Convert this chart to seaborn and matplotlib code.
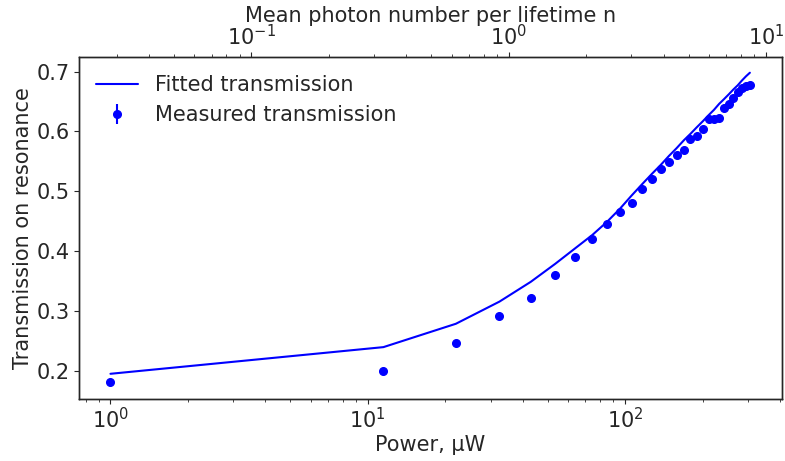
import matplotlib
matplotlib.use("Agg")
import matplotlib.pyplot as plt
import numpy as np
import pandas as pd
import seaborn as sns

# Optical power in microwatts
power_uw = [1.0, 11.5, 22.0, 32.5, 43.0, 53.5, 64.0, 74.5, 85.0, 95.5,
            106.0, 116.5, 127.0, 137.5, 148.0, 158.5, 169.0, 179.5, 190.0, 200.5,
            211.0, 221.5, 232.0, 242.5, 253.0, 263.5, 274.0, 284.5, 295.0, 305.5]

# Measured on-resonance transmission
measured = [0.182, 0.200, 0.247, 0.292, 0.322, 0.361, 0.390, 0.420, 0.446, 0.466,
            0.481, 0.504, 0.521, 0.538, 0.549, 0.560, 0.569, 0.588, 0.592, 0.604,
            0.620, 0.621, 0.623, 0.639, 0.646, 0.655, 0.666, 0.673, 0.675, 0.678]
measured_err = 0.003

# Model fit evaluated at the same powers
fitted = [0.1955, 0.240, 0.279, 0.316, 0.349, 0.379, 0.405, 0.427, 0.449, 0.471,
          0.493, 0.512, 0.529, 0.544, 0.559, 0.572, 0.585, 0.596, 0.607, 0.617,
          0.627, 0.636, 0.646, 0.654, 0.662, 0.670, 0.677, 0.685, 0.692, 0.698]

# Power corresponding to one photon per lifetime
power_per_photon = 35.3

sns.set_theme(style="ticks")
plt.rcParams.update({
    "font.family": ["DejaVu Sans"],
    "font.size": 15,
    "axes.labelsize": 15,
    "xtick.labelsize": 15,
    "ytick.labelsize": 15,
    "legend.fontsize": 15,
    "xtick.major.size": 3.5,
    "ytick.major.size": 3.5,
    "xtick.minor.size": 2,
    "ytick.minor.size": 2,
    "xtick.major.width": 0.8,
    "ytick.major.width": 0.8,
    "xtick.minor.width": 0.6,
    "ytick.minor.width": 0.6,
    "xtick.major.pad": 2,
    "ytick.major.pad": 3,
    "axes.labelpad": 2,
    "axes.linewidth": 1.0,
})

df = pd.DataFrame({"power": power_uw, "measured": measured, "fitted": fitted})

fig = plt.figure(figsize=(7.85, 4.61), dpi=100)
ax = fig.add_axes([0.1, 0.134, 0.896, 0.742])

sns.lineplot(data=df, x="power", y="fitted", ax=ax, color="#0000ff",
             linewidth=1.5, label="Fitted transmission")
ax.errorbar(df["power"], df["measured"], yerr=measured_err, fmt="o",
            color="#0000ff", ms=5.5, elinewidth=1.5, capsize=0,
            label="Measured transmission")

ax.set_xscale("log")
ax.set_xlabel("Power, \u03bcW")
ax.set_ylabel("Transmission on resonance")
ax.set_yticks([0.2, 0.3, 0.4, 0.5, 0.6, 0.7])
ax.margins(x=0.05, y=0.05)
ax.legend(loc="upper left", frameon=False, handlelength=2.0,
          handletextpad=0.8, borderaxespad=0.45, labelspacing=0.5)

# Photon number scale on the top axis
top = ax.twiny()
top.set_xscale("log")
lo, hi = ax.get_xlim()
top.set_xlim(lo / power_per_photon, hi / power_per_photon)
top.set_xlabel("Mean photon number per lifetime n", labelpad=2)

fig.savefig("out.png", dpi=100)
